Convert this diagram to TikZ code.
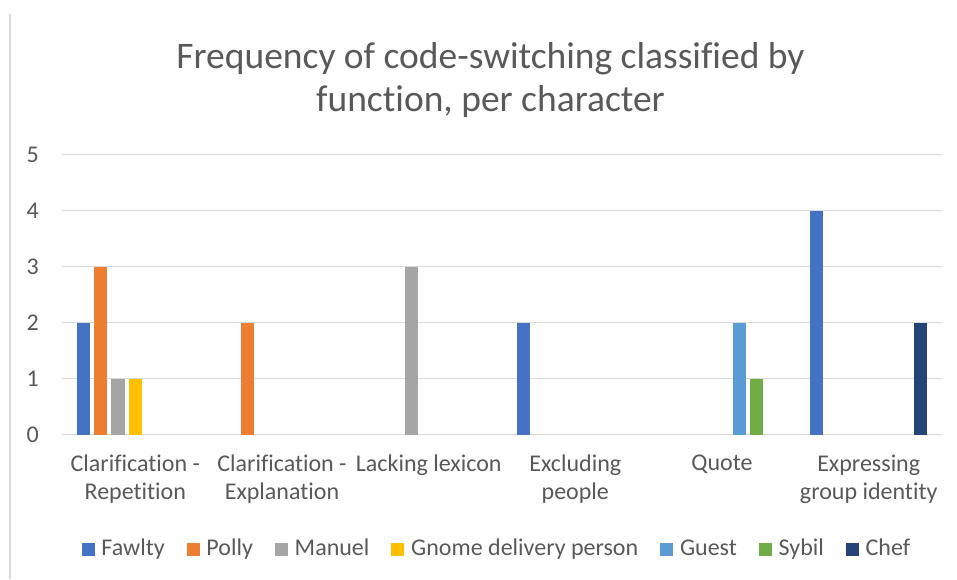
\documentclass[tikz,border=0pt]{standalone}
\usepackage{fontspec}
\setmainfont{Carlito}[Ligatures=NoCommon]
\usetikzlibrary{positioning}
\definecolor{txtgray}{HTML}{595959}
\definecolor{gridgray}{HTML}{D9D9D9}
\definecolor{cFawlty}{HTML}{4472C4}
\definecolor{cPolly}{HTML}{ED7D31}
\definecolor{cManuel}{HTML}{A5A5A5}
\definecolor{cGnome}{HTML}{FFC000}
\definecolor{cGuest}{HTML}{5B9BD5}
\definecolor{cSybil}{HTML}{70AD47}
\definecolor{cChef}{HTML}{264478}
\tikzset{
    bar/.style={fill=#1, draw=none},
    grid line/.style={draw=gridgray, line width=1.5pt},
    key/.style={fill=#1, draw=none, rectangle, minimum size=13pt, inner sep=0pt},
    keytext/.style={text=txtgray, font=\fontsize{24}{28}\selectfont, inner sep=0pt, text height=16pt, text depth=3pt, right=6.5pt of #1},
    catlabel/.style={text=txtgray, font=\fontsize{24}{28}\selectfont, align=center, anchor=north, inner sep=0pt},
    ticklabel/.style={text=txtgray, font=\fontsize{24}{28}\selectfont, anchor=east, inner sep=0pt}
}
\begin{document}
\begin{tikzpicture}[x=1pt, y=-1pt]
    \def \base {434.5}
    \def \u {56}
    \def \bw {13.4}
    \useasboundingbox[fill=white] (0,0) rectangle (957,579);
    % chart frame, left side only
    \draw[gridgray, line width=2pt] (10,14) -- (10,579);
    \node[text=txtgray, font=\fontsize{37.5}{43}\selectfont, align=center, anchor=north, inner sep=0pt] (title) at (490.5,42)
        {Frequency of code-switching classified by\\function, per character};
    % value axis
    \coordinate (g0) at (62,\base);
    \coordinate (g1) at (62,\base-\u);
    \coordinate (g2) at (62,\base-2*\u);
    \coordinate (g3) at (62,\base-3*\u);
    \coordinate (g4) at (62,\base-4*\u);
    \coordinate (g5) at (62,\base-5*\u);
    \draw[grid line] (g0) -- ++(880,0);
    \draw[grid line] (g1) -- ++(880,0);
    \draw[grid line] (g2) -- ++(880,0);
    \draw[grid line] (g3) -- ++(880,0);
    \draw[grid line] (g4) -- ++(880,0);
    \draw[grid line] (g5) -- ++(880,0);
    \node[ticklabel] (y0) at ([xshift=-23pt]g0) {0};
    \node[ticklabel] (y1) at ([xshift=-23pt]g1) {1};
    \node[ticklabel] (y2) at ([xshift=-23pt]g2) {2};
    \node[ticklabel] (y3) at ([xshift=-23pt]g3) {3};
    \node[ticklabel] (y4) at ([xshift=-23pt]g4) {4};
    \node[ticklabel] (y5) at ([xshift=-23pt]g5) {5};
    % bars
    \fill[bar=cFawlty] (76.7,\base) rectangle ++(\bw,-2*\u);
    \fill[bar=cPolly] (94.0,\base) rectangle ++(\bw,-3*\u);
    \fill[bar=cManuel] (111.4,\base) rectangle ++(\bw,-1*\u);
    \fill[bar=cGnome] (128.7,\base) rectangle ++(\bw,-1*\u);
    \fill[bar=cPolly] (240.7,\base) rectangle ++(\bw,-2*\u);
    \fill[bar=cManuel] (404.7,\base) rectangle ++(\bw,-3*\u);
    \fill[bar=cFawlty] (516.7,\base) rectangle ++(\bw,-2*\u);
    \fill[bar=cGuest] (732.7,\base) rectangle ++(\bw,-2*\u);
    \fill[bar=cSybil] (750.0,\base) rectangle ++(\bw,-1*\u);
    \fill[bar=cFawlty] (810.0,\base) rectangle ++(\bw,-4*\u);
    \fill[bar=cChef] (914.0,\base) rectangle ++(\bw,-2*\u);
    % category labels
    \node[catlabel] (lab1) at (135.3,455) {Clarification -\\Repetition};
    \node[catlabel] (lab2) at (282.0,455) {Clarification -\\Explanation};
    \node[catlabel] (lab3) at (428.7,455) {Lacking lexicon};
    \node[catlabel] (lab4) at (575.3,455) {Excluding\\people};
    \node[catlabel] (lab5) at (722.0,455) {Quote};
    \node[catlabel] (lab6) at (868.7,455) {Expressing\\group identity};
    % legend
    \node[key=cFawlty, anchor=west] (kFawlty) at (81.3,549) {};
    \node[keytext=kFawlty] (tFawlty) {Fawlty};
    \node[key=cPolly, right=21.5pt of tFawlty] (kPolly) {};
    \node[keytext=kPolly] (tPolly) {Polly};
    \node[key=cManuel, right=21.5pt of tPolly] (kManuel) {};
    \node[keytext=kManuel] (tManuel) {Manuel};
    \node[key=cGnome, right=21.5pt of tManuel] (kGnome) {};
    \node[keytext=kGnome] (tGnome) {Gnome delivery person};
    \node[key=cGuest, right=21.5pt of tGnome] (kGuest) {};
    \node[keytext=kGuest] (tGuest) {Guest};
    \node[key=cSybil, right=21.5pt of tGuest] (kSybil) {};
    \node[keytext=kSybil] (tSybil) {Sybil};
    \node[key=cChef, right=21.5pt of tSybil] (kChef) {};
    \node[keytext=kChef] (tChef) {Chef};
\end{tikzpicture}
\end{document}
